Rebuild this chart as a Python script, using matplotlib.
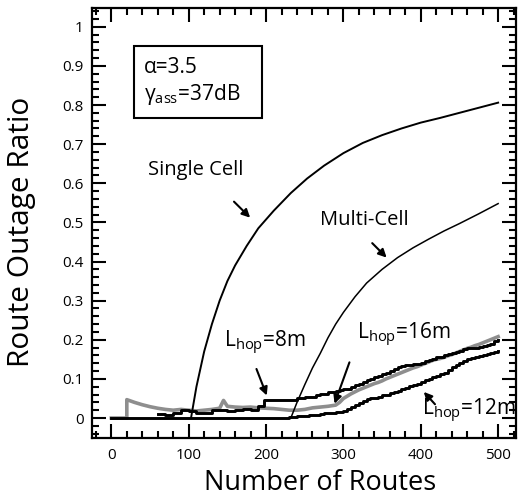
import matplotlib
matplotlib.use("Agg")
import matplotlib.pyplot as plt
from matplotlib.ticker import MultipleLocator

plt.rcParams['font.family'] = ['Open Sans', 'DejaVu Sans']
plt.rcParams['mathtext.fontset'] = 'custom'
plt.rcParams['mathtext.rm'] = 'Open Sans'

# === Dati ===
single_x = [103, 110, 120, 130, 140, 150, 160, 175, 190, 210, 232, 253, 275, 300, 325, 350, 375, 400, 425, 450, 475, 500]
single_y = [0.0, 0.08, 0.17, 0.24, 0.30, 0.35, 0.39, 0.44, 0.485, 0.53, 0.575, 0.612, 0.645, 0.677, 0.703,
            0.723, 0.74, 0.755, 0.767, 0.78, 0.793, 0.806]

multi_x = [232, 240, 250, 260, 270, 280, 290, 300, 315, 330, 350, 370, 390, 410, 430, 450, 475, 500]
multi_y = [0.0, 0.04, 0.085, 0.128, 0.165, 0.205, 0.24, 0.27, 0.31, 0.345, 0.38, 0.41, 0.435, 0.457, 0.478,
           0.497, 0.522, 0.548]

# L_hop = 12 m (nero, in basso)
hop12_x = [0, 230, 235, 240, 245, 250, 255, 260, 265, 270, 275, 280, 285, 290, 295, 300, 305, 310, 315, 320,
           325, 330, 335, 340, 345, 350, 355, 360, 365, 370, 375, 380, 385, 390, 395, 400, 405, 410, 415, 420,
           425, 430, 435, 440, 445, 450, 455, 460, 465, 470, 475, 480, 485, 490, 495, 500]
hop12_y = [0, 0.002, 0.003, 0.004, 0.005, 0.006, 0.007, 0.008, 0.009, 0.010, 0.012, 0.013, 0.014, 0.015,
           0.016, 0.017, 0.022, 0.027, 0.033, 0.038, 0.043, 0.048, 0.050, 0.052, 0.055, 0.058, 0.060, 0.063,
           0.066, 0.070, 0.074, 0.078, 0.081, 0.085, 0.088, 0.092, 0.096, 0.100, 0.104, 0.108, 0.112, 0.116,
           0.124, 0.130, 0.136, 0.140, 0.145, 0.150, 0.153, 0.156, 0.159, 0.162, 0.164, 0.167, 0.170, 0.172]

# L_hop = 8 m (nero, in alto)
hop8_x = [60, 70, 80, 90, 100, 110, 120, 130, 140, 150, 160, 170, 180, 190, 197, 210, 220, 230, 235, 240,
          245, 250, 255, 260, 265, 270, 275, 280, 285, 290, 295, 300, 305, 310, 315, 320, 325, 330, 335, 340,
          345, 350, 355, 360, 365, 370, 375, 380, 385, 390, 395, 400, 405, 410, 415, 420, 425, 430, 435, 440,
          445, 450, 455, 460, 465, 470, 475, 480, 485, 490, 495, 500]
hop8_y = [0.01, 0.008, 0.012, 0.02, 0.018, 0.012, 0.012, 0.02, 0.02, 0.018, 0.02, 0.022, 0.02, 0.03, 0.045,
          0.046, 0.046, 0.047, 0.047, 0.050, 0.050, 0.053, 0.055, 0.055, 0.058, 0.062, 0.062, 0.066, 0.066,
          0.070, 0.072, 0.074, 0.074, 0.080, 0.084, 0.088, 0.092, 0.097, 0.100, 0.105, 0.108, 0.112, 0.116,
          0.120, 0.125, 0.130, 0.132, 0.135, 0.136, 0.138, 0.138, 0.140, 0.145, 0.148, 0.152, 0.155, 0.157,
          0.160, 0.163, 0.165, 0.170, 0.172, 0.176, 0.178, 0.180, 0.180, 0.182, 0.183, 0.186, 0.190, 0.196,
          0.200]

# L_hop = 16 m (grigio)
hop16_x = [0, 20, 20, 30, 40, 50, 60, 70, 80, 90, 100, 110, 120, 130, 140, 145, 150, 160, 170, 180, 190,
           200, 210, 220, 230, 240, 250, 260, 270, 280, 290, 295, 300, 305, 310, 315, 320, 325, 330, 335, 340,
           345, 350, 355, 360, 365, 370, 375, 380, 385, 390, 395, 400, 405, 410, 415, 420, 425, 430, 435, 440,
           445, 450, 455, 460, 465, 470, 475, 480, 485, 490, 495, 500]
hop16_y = [0, 0, 0.047, 0.04, 0.034, 0.029, 0.025, 0.022, 0.02, 0.022, 0.02, 0.018, 0.02, 0.022, 0.025,
           0.045, 0.03, 0.028, 0.027, 0.028, 0.026, 0.025, 0.024, 0.022, 0.02, 0.02, 0.022, 0.026, 0.028,
           0.03, 0.033, 0.040, 0.050, 0.056, 0.062, 0.067, 0.072, 0.076, 0.080, 0.084, 0.088, 0.091, 0.095,
           0.100, 0.104, 0.108, 0.112, 0.116, 0.120, 0.124, 0.128, 0.131, 0.135, 0.139, 0.143, 0.147, 0.150,
           0.152, 0.155, 0.159, 0.162, 0.166, 0.170, 0.174, 0.178, 0.181, 0.185, 0.188, 0.192, 0.196, 0.200,
           0.204, 0.208]

yticks = [0, 0.1, 0.2, 0.3, 0.4, 0.5, 0.6, 0.7, 0.8, 0.9, 1.0]
ytick_labels = ['0', '0.1', '0.2', '0.3', '0.4', '0.5', '0.6', '0.7', '0.8', '0.9', '1']

# === Figura ===
fig = plt.figure(figsize=(5.18, 4.98), dpi=100)
ax = fig.add_axes([0.1776, 0.1205, 0.8184, 0.8635])

ax.plot(hop16_x, hop16_y, color='#8e8e8e', lw=2.6)
ax.plot(hop12_x, hop12_y, color='black', lw=2.1, drawstyle='steps-post')
ax.plot(hop8_x, hop8_y, color='black', lw=2.1, drawstyle='steps-post')
ax.plot(single_x, single_y, color='black', lw=1.4)
ax.plot(multi_x, multi_y, color='black', lw=1.1)

ax.set_xlim(-25, 523)
ax.set_ylim(-0.051, 1.048)
ax.xaxis.set_major_locator(MultipleLocator(100))
ax.xaxis.set_minor_locator(MultipleLocator(20))
ax.yaxis.set_minor_locator(MultipleLocator(0.02))
ax.set_yticks(yticks)
ax.set_yticklabels(ytick_labels)
ax.tick_params(which='both', direction='in', top=True, right=True, width=1.5, labelsize=11)
ax.tick_params(which='major', length=10)
ax.tick_params(which='minor', length=5)
ax.tick_params(axis='x', pad=7)
ax.tick_params(axis='y', pad=6)
for s in ax.spines.values():
    s.set_linewidth(1.6)

ax.set_xlabel('Number of Routes', fontsize=19.5)
ax.xaxis.label.set_va('center')
ax.xaxis.set_label_coords(0.537, -0.104)
ax.set_ylabel('Route Outage Ratio', fontsize=21.5)
ax.yaxis.label.set_va('center')
ax.yaxis.set_label_coords(-0.167, 0.48)

# box parametri
ax.text(41.7, 0.883, 'α=3.5', fontsize=15, va='baseline', ha='left')
ax.text(41.7, 0.814, r'γ$_{\mathrm{ass}}$=37dB', fontsize=15, va='baseline', ha='left')
ax.add_patch(plt.Rectangle((28.8, 0.768), 166.5, 0.182, fill=False, lw=1.5, ec='black'))

# etichette e frecce
arr = dict(arrowstyle='-|>', color='black', lw=1.5, mutation_scale=12)
ax.text(109, 0.635, 'Single Cell', fontsize=14.5, ha='center', va='center')
ax.annotate('', xy=(182, 0.507), xytext=(156, 0.558), arrowprops=arr)
ax.text(327, 0.507, 'Multi-Cell', fontsize=14.5, ha='center', va='center')
ax.annotate('', xy=(358.4, 0.405), xytext=(334.7, 0.452), arrowprops=arr)
ax.text(145, 0.18, r'L$_{\mathrm{hop}}$=8m', fontsize=15, ha='left', va='baseline')
ax.annotate('', xy=(202.2, 0.051), xytext=(186.3, 0.132), arrowprops=arr)
ax.text(318, 0.2, r'L$_{\mathrm{hop}}$=16m', fontsize=15, ha='left', va='baseline')
ax.annotate('', xy=(287.3, 0.030), xytext=(309, 0.149), arrowprops=arr)
ax.text(401.4, 0.006, r'L$_{\mathrm{hop}}$=12m', fontsize=15, ha='left', va='baseline')
ax.annotate('', xy=(401.5, 0.072), xytext=(420.8, 0.030), arrowprops=arr)

fig.savefig('out.png', dpi=100)
